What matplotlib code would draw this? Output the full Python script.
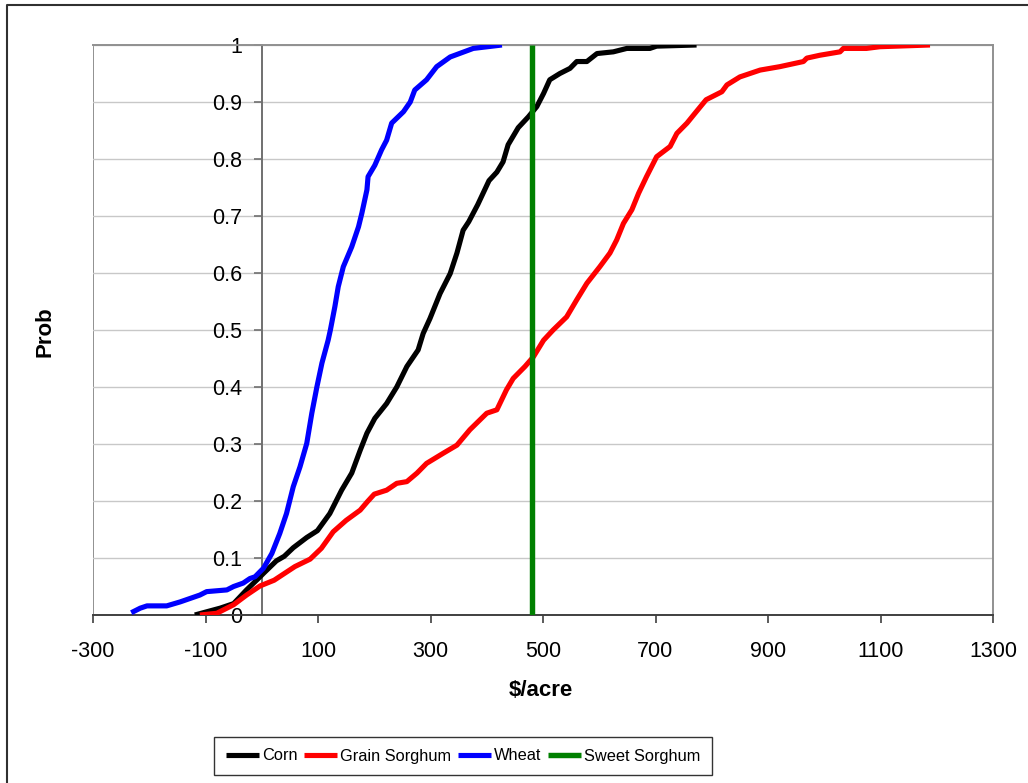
import matplotlib
matplotlib.use("Agg")
import matplotlib.pyplot as plt
from matplotlib.lines import Line2D

# ---------------- data ----------------
corn_x = [-119, -104, -74, -50, -27, -3, 3, 26, 40, 56, 80, 99, 121, 142, 160, 175, 187, 201,
          222, 240, 258, 278, 287, 299, 317, 335, 347, 358, 368, 384, 404, 418, 429, 438, 456,
          474, 489, 501, 512, 530, 548, 560, 578, 596, 625, 649, 690, 702, 773]
corn_p = [0.0, 0.004, 0.012, 0.02, 0.044, 0.067, 0.073, 0.095, 0.103, 0.118, 0.136, 0.148, 0.178,
          0.219, 0.249, 0.289, 0.319, 0.345, 0.371, 0.40, 0.436, 0.465, 0.494, 0.52, 0.564, 0.599,
          0.635, 0.675, 0.69, 0.72, 0.762, 0.777, 0.795, 0.825, 0.855, 0.874, 0.892, 0.915, 0.939,
          0.95, 0.959, 0.971, 0.971, 0.985, 0.988, 0.994, 0.994, 0.998, 1.0]

sorghum_x = [-110, -80, -50, -27, -3, 22, 59, 86, 106, 127, 150, 175, 188, 200, 222, 240, 258,
             276, 293, 323, 347, 370, 400, 418, 435, 447, 468, 483, 501, 518, 542, 560, 578, 601,
             619, 631, 643, 658, 670, 684, 702, 726, 738, 756, 770, 790, 818, 827, 850, 886, 921,
             963, 969, 992, 1028, 1034, 1075, 1099, 1188]
sorghum_p = [0.0, 0.003, 0.018, 0.035, 0.051, 0.061, 0.085, 0.098, 0.117, 0.146, 0.166, 0.184,
             0.199, 0.212, 0.219, 0.231, 0.234, 0.249, 0.266, 0.284, 0.298, 0.325, 0.354, 0.36,
             0.395, 0.415, 0.436, 0.453, 0.482, 0.50, 0.523, 0.553, 0.582, 0.611, 0.635, 0.658,
             0.687, 0.711, 0.74, 0.769, 0.804, 0.822, 0.845, 0.863, 0.88, 0.904, 0.918, 0.93,
             0.944, 0.956, 0.962, 0.971, 0.977, 0.982, 0.988, 0.994, 0.994, 0.997, 1.0]

wheat_x = [-232, -216, -204, -169, -145, -110, -98, -62, -50, -33, -21, -12, 0, 3, 18, 32, 44, 56,
           68, 80, 89, 98, 107, 118, 122, 130, 136, 145, 160, 172, 178, 187, 189, 201, 213, 222,
           231, 252, 264, 272, 293, 311, 335, 376, 427]
wheat_p = [0.004, 0.012, 0.016, 0.016, 0.023, 0.035, 0.041, 0.044, 0.050, 0.056, 0.064, 0.067,
           0.079, 0.082, 0.108, 0.143, 0.178, 0.225, 0.26, 0.301, 0.354, 0.40, 0.442, 0.482, 0.50,
           0.541, 0.576, 0.611, 0.646, 0.681, 0.705, 0.746, 0.769, 0.789, 0.816, 0.833, 0.863,
           0.883, 0.90, 0.921, 0.939, 0.962, 0.979, 0.994, 1.0]

sweet_x = [480, 480]
sweet_p = [0.0, 1.0]

series_names = ["Corn", "Grain Sorghum", "Wheat", "Sweet Sorghum"]
series_colors = ["#000000", "#FF0000", "#0000FF", "#008000"]

x_ticks = [-300, -100, 100, 300, 500, 700, 900, 1100, 1300]
y_ticks = [0, 0.1, 0.2, 0.3, 0.4, 0.5, 0.6, 0.7, 0.8, 0.9, 1]
y_tick_labels = ["0", "0.1", "0.2", "0.3", "0.4", "0.5", "0.6", "0.7", "0.8", "0.9", "1"]

# ---------------- figure ----------------
plt.rcParams['font.family'] = ['Liberation Sans', 'DejaVu Sans']
W, H = 1028, 783
fig = plt.figure(figsize=(W / 100, H / 100), dpi=100)
fig.patch.set_facecolor("white")

ax = fig.add_axes([93 / W, 1 - 615 / H, 900 / W, 570 / H])
ax.set_xlim(-300, 1300)
ax.set_ylim(0, 1)

ax.set_yticks(y_ticks)
ax.set_yticklabels(y_tick_labels)
ax.set_xticks(x_ticks)
ax.set_xticklabels([str(v) for v in x_ticks])
ax.yaxis.grid(True, color="#c8c8c8", linewidth=1.0)
ax.xaxis.grid(False)
ax.set_axisbelow(True)

# spines
ax.spines['left'].set_position(('data', 0))
ax.spines['left'].set_color("#707070")
ax.spines['left'].set_linewidth(1.4)
ax.spines['bottom'].set_color("#404040")
ax.spines['bottom'].set_linewidth(1.4)
for s in ('top', 'right'):
    ax.spines[s].set_color("#909090")
    ax.spines[s].set_linewidth(1.4)
ax.add_line(Line2D([0, 0], [0, 1], transform=ax.transAxes, color="#909090",
                   linewidth=1.4, zorder=0.5))

ax.tick_params(axis='y', direction='out', length=5.5, width=1.2, color="#707070",
               pad=8.5, labelsize=15.5)
ax.tick_params(axis='x', direction='out', length=6, width=1.2, color="#404040",
               pad=13, labelsize=15.5)

lws = [3.7, 3.7, 3.7, 3.9]
data = [(corn_x, corn_p), (sorghum_x, sorghum_p), (wheat_x, wheat_p), (sweet_x, sweet_p)]
for (xs, ps), name, col, lw in zip(data, series_names, series_colors, lws):
    ax.plot(xs, ps, color=col, linewidth=lw, label=name, solid_joinstyle='round',
            solid_capstyle='butt', zorder=3)

# axis titles
fig.text(45 / W, 1 - 332 / H, "Prob", rotation=90, ha='center', va='center',
         fontsize=16, fontweight='bold')
fig.text(541 / W, 1 - 690 / H, r"\$/acre", ha='center', va='center',
         fontsize=16, fontweight='bold')

# legend
leg = fig.legend(loc='center', bbox_to_anchor=(463 / W, 1 - 756 / H), ncol=4,
                 frameon=True, fancybox=False, edgecolor="black", fontsize=11.8,
                 handlelength=2.0, handletextpad=0.2, columnspacing=0.4,
                 borderpad=0.7, borderaxespad=0)
leg.get_frame().set_linewidth(1.0)

# outer chart border
fig.add_artist(Line2D([7 / W, 7 / W, 1.0], [0.0, 1 - 5 / H, 1 - 5 / H],
                      transform=fig.transFigure, color="#303030", linewidth=1.5))

fig.savefig("out.png", dpi=100, facecolor="white")
